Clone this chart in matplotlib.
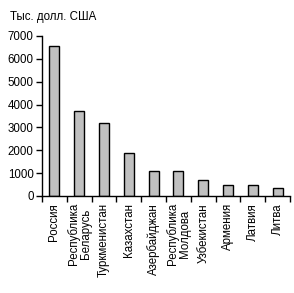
import matplotlib
matplotlib.use("Agg")
import matplotlib.pyplot as plt
import numpy as np

categories = ["Россия", "Республика\nБеларусь", "Туркменистан", "Казахстан", "Азербайджан",
              "Республика\nМолдова", "Узбекистан", "Армения", "Латвия", "Литва"]
values = [6550, 3700, 3200, 1870, 1080, 1080, 680, 480, 480, 350]
yticks = [0, 1000, 2000, 3000, 4000, 5000, 6000, 7000]

plt.rcParams['font.family'] = ['Liberation Sans', 'DejaVu Sans']
fs = 8.3
fig = plt.figure(figsize=(2.94, 2.93), dpi=100)
ax = fig.add_axes([42/294, 1 - 196/293, (290-42)/294, (196-36)/293])
x = np.arange(len(categories))
ax.bar(x, values, width=0.4, color="#c0c0c0", edgecolor="black", linewidth=1.0)
ax.set_xlim(-0.5, len(categories) - 0.5)
ax.set_ylim(0, 7000)
ax.set_yticks(yticks)
ax.set_yticklabels([str(v) for v in yticks], fontsize=fs)
ax.set_xticks(np.arange(len(categories) + 1) - 0.5)
ax.set_xticklabels([])
ax.set_xticks(x, minor=True)
ax.set_xticklabels(categories, minor=True, rotation=90, fontsize=fs, va="top", ha="center",
                   linespacing=1.0)
ax.tick_params(axis="x", which="minor", length=0, pad=5)
ax.tick_params(axis="x", which="major", length=4, width=1, direction="out")
ax.tick_params(axis="y", length=4, width=1, direction="out", pad=2)
for s in ["top", "right"]:
    ax.spines[s].set_visible(False)
for s in ["left", "bottom"]:
    ax.spines[s].set_linewidth(1.0)
fig.text(10/294, 1 - 17/293, "Тыс. долл. США", fontsize=fs, va="center", ha="left")
fig.savefig("out.png", dpi=100)
